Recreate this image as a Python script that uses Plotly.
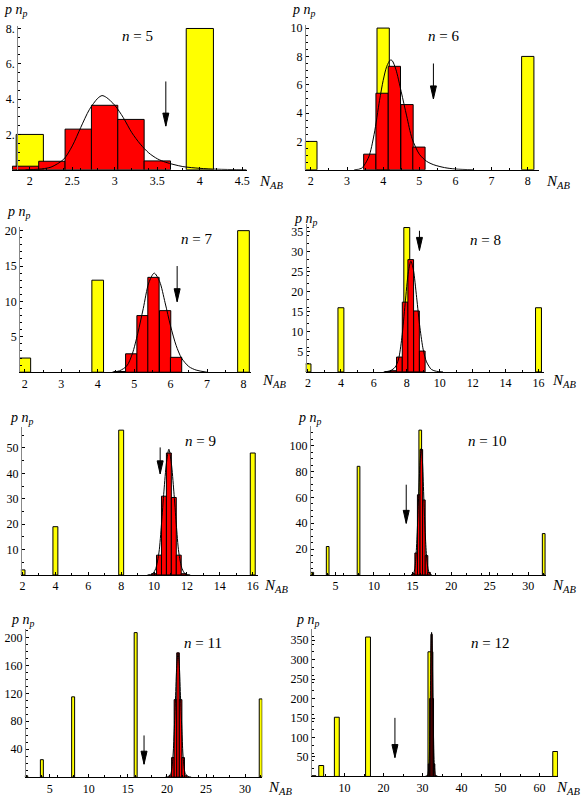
import plotly.graph_objects as go

W, H = 581, 796
SERIF = "Liberation Serif, Times New Roman, DejaVu Serif, serif"

# one entry per panel, n = 5 ... 12
n_values = [5, 6, 7, 8, 9, 10, 11, 12]

# yellow bars
yellow_x = [[2, 4], [2, 4, 8], [2, 4, 8], [2, 4, 8, 16], [2, 4, 8, 16],
            [2, 4, 8, 16, 32], [2, 4, 8, 16, 32], [2, 4, 8, 16, 32, 64]]
yellow_y = [[2, 8], [2, 10, 8], [2, 13, 20], [2, 16, 36, 16], [2, 19, 57, 48],
            [2, 22, 84, 112, 32], [2, 25, 115, 207, 112], [2, 28, 152, 358, 320, 64]]
yellow_w = [0.32, 0.34, 0.32, 0.36, 0.30, 0.35, 0.38, 1.25]

# red histograms
red_x = [[1.95, 2.26, 2.57, 2.88, 3.19, 3.50],
         [3.63, 3.97, 4.31, 4.66, 4.99],
         [4.60, 4.92, 5.23, 5.53, 5.85, 6.15],
         [6.86, 7.20, 7.55, 7.90, 8.24, 8.59, 8.94],
         [10.0, 10.3, 10.6, 10.9, 11.2, 11.5, 11.8],
         [15.14, 15.47, 15.80, 16.14, 16.47, 16.81, 17.14],
         [20.43, 20.76, 21.09, 21.42, 21.75, 22.08, 22.41],
         [31.30, 31.63, 31.97, 32.30, 32.63, 32.97, 33.30]]
red_y = [[0.2, 0.48, 2.3, 3.65, 2.85, 0.5],
         [1.1, 5.4, 7.3, 4.6, 1.6],
         [0.1, 2.6, 8.0, 13.4, 8.7, 2.1],
         [0.1, 0.3, 3.7, 17.4, 28, 15.2, 5.2],
         [0.5, 7.8, 31, 48, 30.5, 7.8, 0.5],
         [1, 17, 62, 97, 58, 15, 2],
         [2, 28, 111, 178, 111, 28, 2],
         [2, 32, 200, 365, 200, 32, 2]]
red_w = [0.31, 0.34, 0.31, 0.345, 0.30, 0.335, 0.33, 0.33]

# fitted curves
curve_x = [[1.95, 2.1, 2.25, 2.4, 2.5, 2.6, 2.7, 2.8, 2.85, 2.9, 3.0, 3.1, 3.2, 3.3, 3.4, 3.5, 3.6, 3.8, 4.0, 4.2, 4.55],
           [3.2, 3.4, 3.6, 3.75, 3.9, 4.0, 4.1, 4.2, 4.25, 4.35, 4.5, 4.65, 4.8, 5.0, 5.2, 5.4, 5.7, 6.0, 6.5],
           [4.4, 4.6, 4.8, 4.95, 5.1, 5.25, 5.4, 5.55, 5.7, 5.85, 6.0, 6.15, 6.3, 6.5, 6.7, 7.0],
           [6.6, 7.0, 7.3, 7.5, 7.7, 7.9, 8.1, 8.25, 8.4, 8.6, 8.8, 9.0, 9.2, 9.5, 9.8, 10.2],
           [9.6, 9.9, 10.1, 10.3, 10.45, 10.6, 10.75, 10.9, 11.05, 11.2, 11.35, 11.5, 11.7, 11.9, 12.2],
           [14.8, 15.1, 15.3, 15.47, 15.64, 15.8, 15.97, 16.14, 16.3, 16.47, 16.64, 16.81, 17.0, 17.2, 17.5],
           [19.8, 20.2, 20.5, 20.76, 20.93, 21.09, 21.26, 21.42, 21.58, 21.75, 21.92, 22.08, 22.35, 22.7, 23.1],
           [30.6, 31.0, 31.3, 31.6, 31.8, 32.0, 32.15, 32.3, 32.45, 32.6, 32.8, 33.0, 33.3, 33.6, 34.0]]
curve_y = [[0, 0.03, 0.15, 0.6, 1.35, 2.4, 3.4, 4.05, 4.2, 4.1, 3.65, 2.95, 2.1, 1.45, 0.95, 0.62, 0.42, 0.18, 0.08, 0.03, 0],
           [0, 0.1, 0.9, 2.5, 4.9, 6.3, 7.3, 7.75, 7.7, 7.1, 5.5, 3.8, 2.2, 1.1, 0.6, 0.35, 0.15, 0.05, 0],
           [0, 0.2, 0.9, 2.6, 5.5, 9.0, 12.6, 14.0, 12.8, 9.8, 6.5, 3.8, 2.0, 0.8, 0.3, 0],
           [0, 0.3, 1.2, 3.2, 8.5, 17.0, 25.0, 27.6, 25.5, 18.5, 11.0, 5.5, 2.5, 0.6, 0.15, 0],
           [0, 0.4, 2.5, 9, 20, 33, 44, 49.5, 44, 33, 20, 9, 2.5, 0.4, 0],
           [0, 1, 5, 17, 38, 62, 87, 98, 86, 58, 33, 15, 5, 1, 0],
           [0, 1, 5, 28, 65, 111, 160, 178, 160, 111, 65, 28, 5, 1, 0],
           [0, 1, 4, 25, 90, 220, 330, 370, 330, 230, 100, 30, 4, 1, 0]]

# arrows: x, top, tip
arrow_x = [3.60, 5.39, 6.18, 8.77, 10.37, 14.18, 17.07, 22.9]
arrow_top = [5.0, 7.5, 15.0, 35.2, 50.2, 69.8, 59.7, 150.4]
arrow_tip = [2.47, 5.0, 9.96, 30.3, 39.8, 39.9, 18.5, 48.4]

# "n = .." label positions
label_x = [3.27, 5.68, 6.7, 12.8, 12.83, 24.7, 24.6, 47.4]
label_y = [7.6, 9.45, 18.75, 33, 52.9, 103.8, 191.5, 343]

# ticks
x_ticks = [[2, 2.5, 3, 3.5, 4, 4.5], [2, 3, 4, 5, 6, 7, 8], [2, 3, 4, 5, 6, 7, 8],
           [2, 4, 6, 8, 10, 12, 14, 16], [2, 4, 6, 8, 10, 12, 14, 16],
           [5, 10, 15, 20, 25, 30], [5, 10, 15, 20, 25, 30], [10, 20, 30, 40, 50, 60]]
y_ticks = [[2, 4, 6, 8], [2, 4, 6, 8, 10], [5, 10, 15, 20], [5, 10, 15, 20, 25, 30, 35],
           [10, 20, 30, 40, 50], [20, 40, 60, 80, 100], [40, 80, 120, 160, 200],
           [50, 100, 150, 200, 250, 300, 350]]
y_ticktext = [["2.", "4.", "6.", "8."]] + [[str(v) for v in t] for t in y_ticks[1:]]

# axis ranges and pixel boxes (left, right, top, bottom)
x_range = [[1.79, 4.55], [1.835, 8.31], [1.845, 8.2], [1.86, 16.33],
           [1.9, 16.29], [1.69, 32.3], [1.82, 32.2], [1.34, 64.7]]
x_cross = [1.85, 1.835, 1.845, 1.86, 1.9, 1.69, 1.82, 1.34]
y_top = [8.15, 10.2, 20.5, 36.9, 58.4, 114.8, 212.8, 379.7]
boxes = [(11.0, 247.3, 22.0, 167.0), (306.0, 541.7, 21.4, 167.0),
         (18.3, 251.5, 224.8, 371.0), (306.8, 546.7, 221.6, 370.7),
         (20.0, 258.3, 425.8, 575.3), (311.0, 548.8, 425.7, 575.3),
         (24.0, 263.1, 629.3, 779.0), (312.0, 560.8, 629.3, 778.3)]
p_label_pos = [(1, 7), (291, 7), (4, 210), (293, 217), (7, 418), (297, 418), (8, 621), (295, 621)]
n_label_pos = [(258, 179), (547, 179), (261, 380), (553, 380), (263, 586), (553, 586), (267, 790), (557, 790)]

fig = go.Figure()
layout = {}
for i in range(8):
    k = i + 1
    xa = "x" if k == 1 else f"x{k}"
    ya = "y" if k == 1 else f"y{k}"
    fig.add_trace(go.Bar(x=yellow_x[i], y=yellow_y[i], width=yellow_w[i], opacity=1,
                         marker=dict(color="#ffff00", line=dict(color="black", width=1)),
                         xaxis=xa, yaxis=ya, showlegend=False))
    fig.add_trace(go.Bar(x=red_x[i], y=red_y[i], width=red_w[i], opacity=1,
                         marker=dict(color="#ff0000", line=dict(color="black", width=1)),
                         xaxis=xa, yaxis=ya, showlegend=False))
    fig.add_trace(go.Scatter(x=curve_x[i], y=curve_y[i], mode="lines",
                             line=dict(color="black", width=1, shape="spline", smoothing=0.8),
                             xaxis=xa, yaxis=ya, showlegend=False))

    l, r, t, b = boxes[i]
    x0, x1 = x_range[i]
    pos = (l + (x_cross[i] - x0) / (x1 - x0) * (r - l)) / W
    tickfont = dict(family=SERIF, size=12, color="black")
    layout["xaxis" if k == 1 else f"xaxis{k}"] = dict(
        domain=[l / W, r / W], range=x_range[i], anchor=ya, tickvals=x_ticks[i],
        showline=True, linecolor="black", linewidth=1, ticks="inside", ticklen=3,
        tickcolor="black", showgrid=False, zeroline=False, tickfont=tickfont,
        minor=dict(ticks="inside", ticklen=2, tickcolor="black"))
    layout["yaxis" if k == 1 else f"yaxis{k}"] = dict(
        domain=[1 - b / H, 1 - t / H], range=[0, y_top[i]], anchor="free", position=pos,
        tickvals=y_ticks[i], ticktext=y_ticktext[i],
        showline=True, linecolor="#888888", linewidth=1, ticks="inside", ticklen=3,
        tickcolor="black", showgrid=False, zeroline=False, tickfont=tickfont,
        minor=dict(ticks="inside", ticklen=2, tickcolor="black"))

    # arrow
    fig.add_shape(type="line", xref=xa, yref=ya, x0=arrow_x[i], x1=arrow_x[i],
                  y0=arrow_top[i], y1=arrow_tip[i], line=dict(color="black", width=1))
    fig.add_shape(type="path", xref=xa, yref=ya, xsizemode="pixel", ysizemode="pixel",
                  xanchor=arrow_x[i], yanchor=arrow_tip[i], path="M0,0 L-3,13 L3,13 Z",
                  fillcolor="black", line=dict(color="black", width=1))

    fig.add_annotation(x=label_x[i], y=label_y[i], xref=xa, yref=ya, showarrow=False,
                       text=f"<i>n</i> = {n_values[i]}",
                       font=dict(family=SERIF, size=15, color="black"))
    px, py = p_label_pos[i]
    fig.add_annotation(x=px / W, y=1 - py / H, xref="paper", yref="paper", showarrow=False,
                       xanchor="left", yanchor="middle", text="<i>p n</i><sub><i>p</i></sub>",
                       font=dict(family=SERIF, size=14, color="black"))
    px, py = n_label_pos[i]
    fig.add_annotation(x=px / W, y=1 - py / H, xref="paper", yref="paper", showarrow=False,
                       xanchor="left", yanchor="middle", text="<i>N</i><sub><i>AB</i></sub>",
                       font=dict(family=SERIF, size=15, color="black"))

fig.update_layout(width=W, height=H, margin=dict(l=0, r=0, t=0, b=0),
                  paper_bgcolor="white", plot_bgcolor="white", barmode="overlay",
                  showlegend=False, font=dict(family=SERIF), **layout)

# drop the default page margin so the figure sits at the window corner
fig.write_html("out.html", config={"displayModeBar": False},
               post_script="document.body.style.margin='0';")
